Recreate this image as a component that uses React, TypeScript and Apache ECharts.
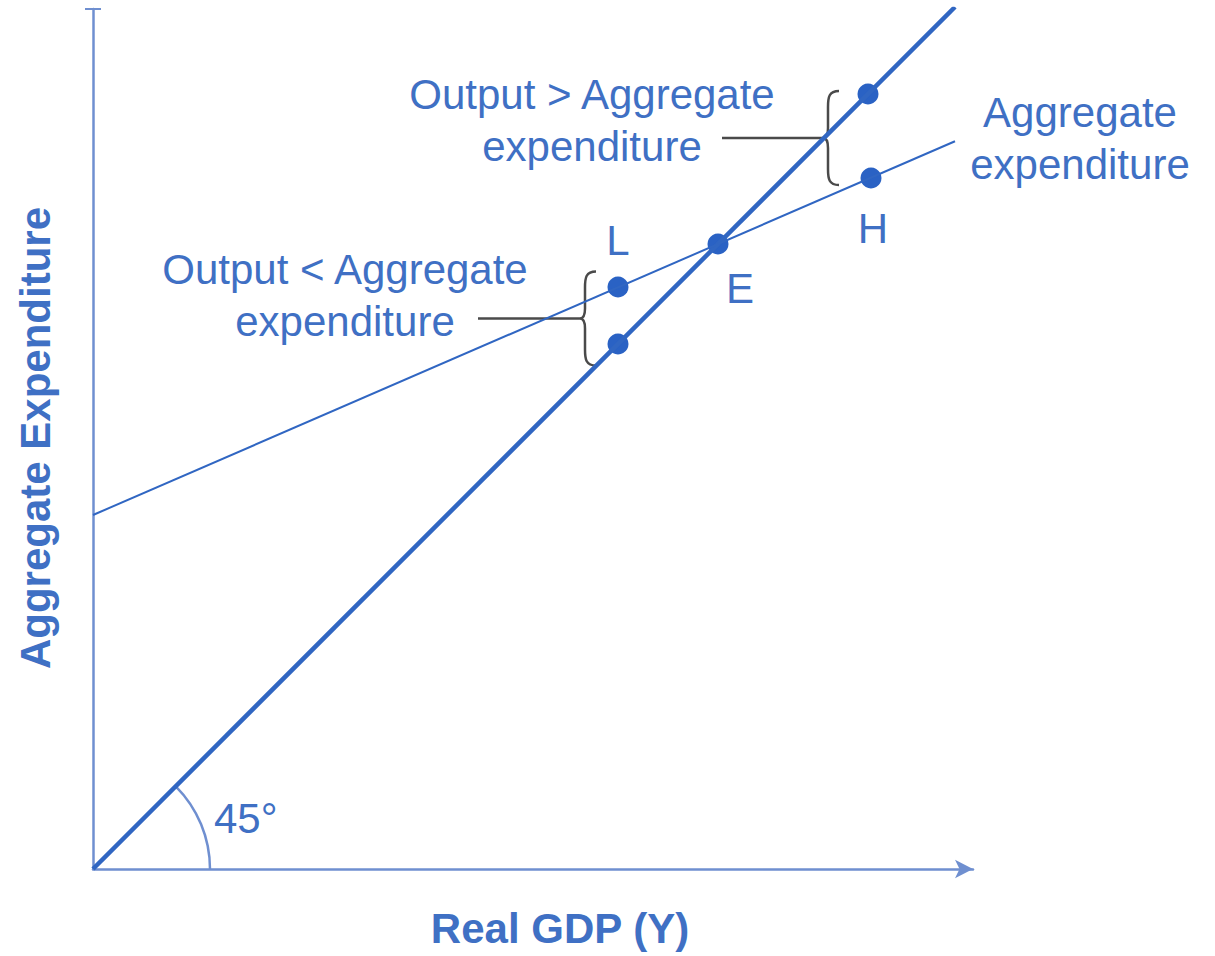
import React, { useEffect, useRef } from "react";
import * as echarts from "echarts";

// Data (units: arbitrary, equal scale on both axes)
const xRange = [0, 88];
const yRange = [0, 86];
const line45 = [[0, 0], [86.2, 86.2]];
const aeIntercept = 35.4;
const aeSlope = 0.4336;
const aeLine = [[0, aeIntercept], [86.2, aeIntercept + aeSlope * 86.2]];
const pointNames = ["L", "Lb", "E", "Ub", "H"];
const pointX = [52.5, 52.5, 62.5, 77.5, 77.8];
const pointY = [58.2, 52.5, 62.5, 77.5, 69.1];

const TEXT = "#3f70c4";
const LINE = "#3066c2";
const AXIS = "#6f8fd0";
const BRACE = "#4a4a4a";

echarts.graphic.registerShape(
  "brace",
  echarts.graphic.extendPath(
    "M 16,-47 C 6,-47 5,-41 5,-31 L 5,-10 C 5,-3 3,0 0,0 C 3,0 5,3 5,10 L 5,31 C 5,41 6,47 16,47",
    {}
  )
);

export default function App() {
  const ref = useRef<HTMLDivElement>(null);
  useEffect(() => {
    const chart = echarts.init(ref.current!, null, { renderer: "svg" });
    const font = "Liberation Sans, Arial, sans-serif";
    chart.setOption({
      animation: false,
      grid: { left: 93, top: 9, right: 242, bottom: 87 },
      xAxis: {
        type: "value",
        min: xRange[0],
        max: xRange[1],
        axisLine: { show: true, symbol: ["none", "arrow"], symbolSize: [14, 18], lineStyle: { color: AXIS, width: 2.5 } },
        axisTick: { show: false },
        axisLabel: { show: false },
        splitLine: { show: false },
      },
      yAxis: {
        type: "value",
        min: yRange[0],
        max: yRange[1],
        axisLine: { show: true, lineStyle: { color: AXIS, width: 2.5 } },
        axisTick: { show: false },
        axisLabel: { show: false },
        splitLine: { show: false },
      },
      series: [
        { type: "line", data: line45, symbol: "none", lineStyle: { color: LINE, width: 4.5 } },
        { type: "line", data: aeLine, symbol: "none", lineStyle: { color: LINE, width: 2 } },
        {
          type: "scatter",
          data: pointX.map((x, i) => [x, pointY[i]]),
          symbolSize: 21,
          itemStyle: { color: "#2a62c4", opacity: 1 },
        },
      ],
    });

    const p = (x: number, y: number) => chart.convertToPixel({ gridIndex: 0 }, [x, y]) as number[];
    const o = p(0, 0);
    const top = p(0, yRange[1]);
    const L = p(pointX[0], pointY[0]);
    const Lb = p(pointX[1], pointY[1]);
    const E = p(pointX[2], pointY[2]);
    const Ub = p(pointX[3], pointY[3]);
    const H = p(pointX[4], pointY[4]);
    const lowMid = (L[1] + Lb[1]) / 2 + 3;
    const upMid = (Ub[1] + H[1]) / 2 + 2;
    const tf = { fill: TEXT, fontFamily: font, fontSize: 42 };

    chart.setOption({
      graphic: [
        { type: "line", shape: { x1: o[0] - 8, y1: top[1], x2: o[0] + 8, y2: top[1] }, style: { stroke: AXIS, lineWidth: 2 } },
        { type: "arc", shape: { cx: o[0], cy: o[1], r: 117, startAngle: -Math.PI / 4, endAngle: 0, clockwise: true }, style: { stroke: AXIS, lineWidth: 2.5, fill: "none" } },
        { type: "text", x: 214, y: o[1] - 72, style: { ...tf, text: "45°" } },
        // braces
        { type: "brace", x: L[0] - 38, y: lowMid, style: { stroke: BRACE, lineWidth: 2.5, fill: "none" } },
        { type: "line", shape: { x1: 478, y1: lowMid, x2: L[0] - 38, y2: lowMid }, style: { stroke: BRACE, lineWidth: 2.5 } },
        { type: "brace", x: Ub[0] - 45, y: upMid, style: { stroke: BRACE, lineWidth: 2.5, fill: "none" } },
        { type: "line", shape: { x1: 722, y1: upMid, x2: Ub[0] - 45, y2: upMid }, style: { stroke: BRACE, lineWidth: 2.5 } },
        // point labels
        { type: "text", x: L[0], y: L[1] - 47, style: { ...tf, text: "L", align: "center", verticalAlign: "middle" } },
        { type: "text", x: E[0] + 22, y: E[1] + 44, style: { ...tf, text: "E", align: "center", verticalAlign: "middle" } },
        { type: "text", x: H[0] + 2, y: H[1] + 50, style: { ...tf, text: "H", align: "center", verticalAlign: "middle" } },
        // annotations
        { type: "text", x: 592, y: 120, style: { ...tf, text: "Output > Aggregate\nexpenditure", align: "center", verticalAlign: "middle", lineHeight: 52 } },
        { type: "text", x: 1080, y: 138, style: { ...tf, text: "Aggregate\nexpenditure", align: "center", verticalAlign: "middle", lineHeight: 52 } },
        { type: "text", x: 345, y: 295, style: { ...tf, text: "Output < Aggregate\nexpenditure", align: "center", verticalAlign: "middle", lineHeight: 52 } },
        // axis titles
        { type: "text", x: 560, y: 928, style: { ...tf, text: "Real GDP (Y)", fontWeight: "bold", fontSize: 42, align: "center", verticalAlign: "middle" } },
        { type: "text", x: 35, y: 438, rotation: Math.PI / 2, style: { ...tf, text: "Aggregate Expenditure", fontWeight: "bold", fontSize: 42, align: "center", verticalAlign: "middle" } },
      ],
    });
    return () => chart.dispose();
  }, []);
  return <div ref={ref} style={{ width: 1215, height: 956, position: "absolute", left: 0, top: 0 }} />;
}
